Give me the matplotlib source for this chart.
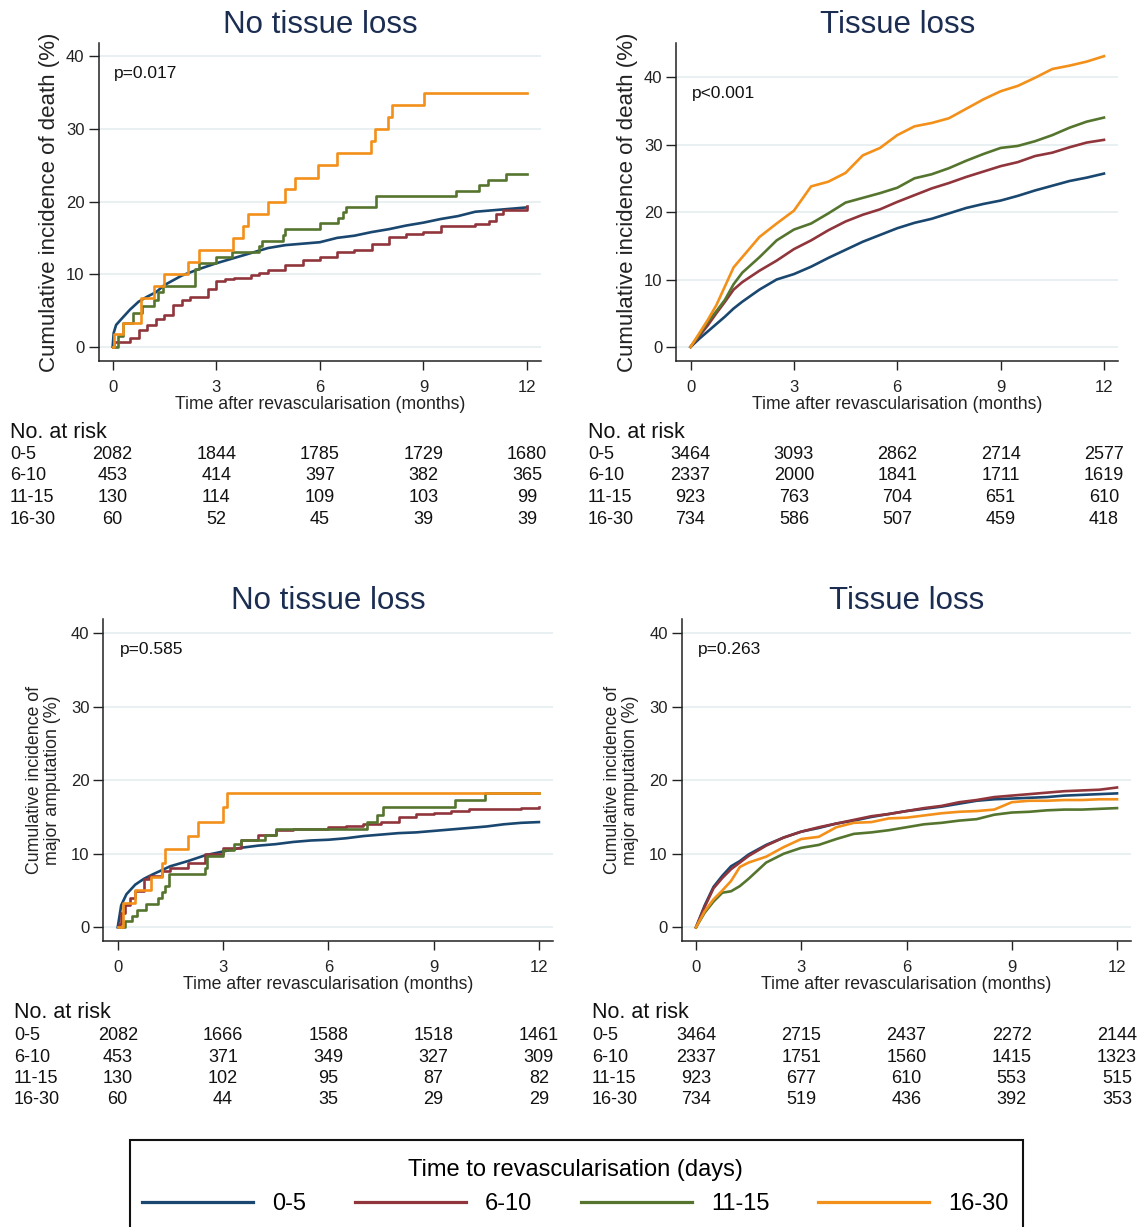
import matplotlib
matplotlib.use("Agg")
import matplotlib.pyplot as plt
from matplotlib.lines import Line2D
from matplotlib.patches import Rectangle
from matplotlib.transforms import blended_transform_factory

plt.rcParams['font.family'] = ['Liberation Sans', 'DejaVu Sans']

W, H = 1146, 1227

groups = ["0-5", "6-10", "11-15", "16-30"]
colors = ["#1a476f", "#90353b", "#55752f", "#f39019"]
risk_times = [0, 3, 6, 9, 12]

# --- death, no tissue loss (top left) ---
death_ntl_t_05 = [0, 0.03, 0.1, 0.25, 0.5, 0.75, 1.0, 1.25, 1.5, 2.0, 2.5, 3.0, 3.5, 4.0, 4.5, 5.0,
                  5.5, 6.0, 6.5, 7.0, 7.5, 8.0, 8.5, 9.0, 9.5, 10.0, 10.5, 11.0, 11.5, 12.0]
death_ntl_v_05 = [0, 1.9, 3.0, 3.8, 5.1, 6.2, 6.9, 7.5, 8.5, 9.8, 10.7, 11.5, 12.2, 12.9, 13.6, 14.0,
                  14.2, 14.4, 15.0, 15.3, 15.8, 16.2, 16.7, 17.1, 17.6, 18.0, 18.6, 18.8, 19.0, 19.2]
death_ntl_t_610 = [0, 0.05, 0.5, 0.75, 1.0, 1.25, 1.5, 1.75, 2.0, 2.25, 2.5, 2.75, 3.0, 3.25, 3.5, 4.0,
                   4.25, 4.5, 5.0, 5.5, 6.0, 6.5, 7.0, 7.5, 8.0, 8.5, 9.0, 9.5, 10.0, 10.5, 10.9,
                   11.1, 11.3, 11.9, 12.0]
death_ntl_v_610 = [0, 0.7, 1.2, 2.3, 3.0, 3.8, 4.4, 5.8, 6.5, 6.8, 6.9, 7.9, 9.0, 9.3, 9.5, 9.9,
                   10.2, 10.6, 11.2, 12.0, 12.4, 13.0, 13.3, 14.1, 15.1, 15.5, 15.75, 16.7, 16.7, 16.9, 17.3,
                   18.3, 18.9, 18.9, 19.4]
death_ntl_t_1115 = [0, 0.15, 0.3, 0.6, 0.86, 1.2, 1.3, 1.45, 2.38, 2.5, 3.0, 3.47, 4.23, 4.33, 4.92,
                    5.0, 6.0, 6.53, 6.66, 6.77, 7.64, 9.95, 10.62, 10.88, 11.38, 12.0]
death_ntl_v_1115 = [0, 1.5, 3.3, 4.7, 5.6, 6.5, 7.5, 8.4, 10.7, 11.5, 12.3, 13.1, 13.9, 14.6, 15.4,
                    16.2, 17.0, 17.7, 18.5, 19.2, 20.8, 21.5, 22.3, 23.0, 23.8, 23.8]
death_ntl_t_1630 = [0, 0.03, 0.29, 0.83, 1.21, 1.5, 2.17, 2.5, 3.49, 3.78, 3.91, 4.5, 5.0, 5.28,
                    5.95, 6.5, 7.48, 7.6, 7.98, 8.08, 9.02, 12.0]
death_ntl_v_1630 = [0, 1.7, 3.3, 6.7, 8.3, 10.0, 11.7, 13.3, 15.0, 16.7, 18.3, 20.0, 21.7, 23.3,
                    25.0, 26.7, 28.3, 30.0, 31.7, 33.3, 35.0, 35.0]

# shared time grid for the smooth tissue-loss curves
t_grid = [0, 0.25, 0.5, 0.75, 1.0, 1.25, 1.5, 2.0, 2.5, 3.0, 3.5, 4.0, 4.5, 5.0, 5.5, 6.0, 6.5,
          7.0, 7.5, 8.0, 8.5, 9.0, 9.5, 10.0, 10.5, 11.0, 11.5, 12.0]

# --- death, tissue loss (top right) ---
death_tl_05 = [0, 1.2, 2.3, 3.4, 4.5, 5.7, 6.7, 8.5, 10.0, 10.8, 11.9, 13.2, 14.4, 15.6, 16.6, 17.6,
               18.4, 19.0, 19.8, 20.6, 21.2, 21.7, 22.4, 23.2, 23.9, 24.6, 25.1, 25.7]
death_tl_610 = [0, 1.6, 3.2, 5.0, 6.7, 8.5, 9.6, 11.3, 12.8, 14.5, 15.8, 17.3, 18.6, 19.6, 20.4, 21.5,
                22.5, 23.5, 24.3, 25.2, 26.0, 26.8, 27.4, 28.3, 28.8, 29.6, 30.3, 30.7]
death_tl_1115 = [0, 1.8, 3.7, 5.3, 7.0, 9.3, 11.0, 13.3, 15.8, 17.4, 18.3, 19.8, 21.4, 22.1, 22.8, 23.6,
                 25.0, 25.6, 26.5, 27.6, 28.6, 29.5, 29.8, 30.5, 31.4, 32.5, 33.4, 34.0]
death_tl_1630 = [0, 2.0, 4.0, 6.2, 9.0, 11.8, 13.3, 16.3, 18.3, 20.2, 23.8, 24.5, 25.8, 28.4, 29.5, 31.4,
                 32.7, 33.2, 33.9, 35.3, 36.7, 37.9, 38.7, 39.9, 41.2, 41.7, 42.3, 43.1]

# --- amputation, no tissue loss (bottom left) ---
amp_ntl_t_05 = [0, 0.05, 0.1, 0.25, 0.5, 0.75, 1.0, 1.5, 2.0, 2.5, 3.0, 3.5, 4.0, 4.5, 5.0, 5.5, 6.0,
                6.5, 7.0, 7.5, 8.0, 8.5, 9.0, 9.5, 10.0, 10.5, 11.0, 11.5, 12.0]
amp_ntl_v_05 = [0, 1.5, 3.0, 4.5, 5.8, 6.6, 7.2, 8.3, 9.0, 9.8, 10.3, 10.8, 11.1, 11.3, 11.6, 11.8, 11.9,
                12.1, 12.4, 12.6, 12.8, 12.9, 13.1, 13.3, 13.5, 13.7, 14.0, 14.2, 14.3]
amp_ntl_t_610 = [0, 0.05, 0.1, 0.2, 0.35, 0.5, 0.75, 0.9, 1.25, 1.5, 2.0, 2.5, 3.0, 3.5, 4.0, 4.5,
                 5.0, 6.0, 6.5, 7.0, 7.5, 8.0, 8.5, 9.0, 9.5, 10.0, 11.0, 11.5, 12.0]
amp_ntl_v_610 = [0, 0.5, 2.0, 3.0, 4.0, 5.0, 6.5, 7.0, 7.6, 8.0, 8.8, 10.0, 10.8, 11.8, 12.5, 13.2,
                 13.4, 13.6, 13.8, 14.0, 14.3, 15.0, 15.4, 15.5, 15.8, 16.1, 16.1, 16.2, 16.4]
amp_ntl_t_1115 = [0, 0.2, 0.4, 0.55, 0.8, 1.15, 1.25, 1.35, 1.45, 2.5, 2.55, 3.0, 3.3, 3.5, 4.2, 4.5,
                  7.1, 7.4, 7.55, 9.6, 10.45, 12.0]
amp_ntl_v_1115 = [0, 0.8, 1.6, 2.4, 3.2, 4.0, 4.8, 5.6, 7.3, 8.1, 9.7, 10.5, 11.3, 11.8, 12.6, 13.4,
                  14.3, 15.2, 16.4, 17.3, 18.2, 18.2]
amp_ntl_t_1630 = [0, 0.15, 0.5, 0.95, 1.25, 1.35, 2.0, 2.3, 3.0, 3.1, 12.0]
amp_ntl_v_1630 = [0, 3.3, 5.1, 6.9, 8.8, 10.6, 12.4, 14.3, 16.3, 18.2, 18.2]

# --- amputation, tissue loss (bottom right) ---
amp_tl_05 = [0, 3.0, 5.5, 7.0, 8.3, 9.0, 9.9, 11.2, 12.2, 13.0, 13.5, 14.1, 14.5, 15.0, 15.4, 15.8,
             16.1, 16.4, 16.8, 17.2, 17.4, 17.5, 17.6, 17.7, 17.9, 18.0, 18.1, 18.2]
amp_tl_610 = [0, 2.8, 5.3, 6.7, 7.9, 8.8, 9.7, 11.1, 12.2, 13.0, 13.6, 14.1, 14.6, 15.1, 15.4, 15.8,
              16.2, 16.5, 17.0, 17.3, 17.7, 17.9, 18.1, 18.3, 18.5, 18.6, 18.7, 19.0]
amp_tl_1115 = [0, 2.0, 3.5, 4.7, 4.9, 5.6, 6.6, 8.8, 10.0, 10.8, 11.2, 12.0, 12.7, 12.9, 13.2, 13.6,
               14.0, 14.2, 14.5, 14.7, 15.3, 15.6, 15.7, 15.9, 16.0, 16.0, 16.1, 16.2]
amp_tl_1630 = [0, 2.2, 3.8, 5.0, 6.3, 8.2, 8.8, 9.6, 10.9, 12.0, 12.3, 13.6, 14.2, 14.3, 14.8, 14.9,
               15.2, 15.5, 15.7, 15.8, 16.0, 17.0, 17.2, 17.2, 17.3, 17.3, 17.4, 17.4]

# --- numbers at risk ---
risk_death_ntl = [[2082, 1844, 1785, 1729, 1680],
                  [453, 414, 397, 382, 365],
                  [130, 114, 109, 103, 99],
                  [60, 52, 45, 39, 39]]
risk_death_tl = [[3464, 3093, 2862, 2714, 2577],
                 [2337, 2000, 1841, 1711, 1619],
                 [923, 763, 704, 651, 610],
                 [734, 586, 507, 459, 418]]
risk_amp_ntl = [[2082, 1666, 1588, 1518, 1461],
                [453, 371, 349, 327, 309],
                [130, 102, 95, 87, 82],
                [60, 44, 35, 29, 29]]
risk_amp_tl = [[3464, 2715, 2437, 2272, 2144],
               [2337, 1751, 1560, 1415, 1323],
               [923, 677, 610, 553, 515],
               [734, 519, 436, 392, 353]]

fig = plt.figure(figsize=(W / 100, H / 100), dpi=100)
fig.patch.set_facecolor('white')


def px_axes(left, right, top, bottom):
    return fig.add_axes([left / W, 1 - bottom / H, (right - left) / W, (bottom - top) / H])


def style_axes(ax, title, ylabel, ylim, ylab_size, ylab_pad):
    ax.set_xlim(-0.41, 12.41)
    ax.set_ylim(*ylim)
    ax.set_xticks(risk_times)
    ax.set_yticks([0, 10, 20, 30, 40])
    for y in [0, 10, 20, 30, 40]:
        ax.axhline(y, color='#e6eff1', lw=1.3, zorder=0)
    for s in ['top', 'right']:
        ax.spines[s].set_visible(False)
    for s in ['left', 'bottom']:
        ax.spines[s].set_color('#222222')
        ax.spines[s].set_linewidth(1.1)
    ax.tick_params(axis='x', length=6.5, width=1, pad=7, labelsize=12, colors='#222222')
    ax.tick_params(axis='y', length=7, width=1, pad=3, labelsize=12, colors='#222222')
    ax.set_xlabel("Time after revascularisation (months)", fontsize=12.7, labelpad=1, color='#222222')
    ax.set_ylabel(ylabel, fontsize=ylab_size, labelpad=ylab_pad, color='#222222', linespacing=1.1)
    ax.set_title(title, fontsize=22.5, color='#1c2d52', pad=7)


def risk_table(ax, rows, label_x, top_y):
    tr = blended_transform_factory(ax.transData, fig.transFigure)
    fig.text(label_x / W, 1 - top_y / H, "No. at risk", fontsize=15.5, va='center', ha='left',
             color='#111111')
    for i, (g, vals) in enumerate(zip(groups, rows)):
        yy = 1 - (top_y + 22.5 + i * 21.5) / H
        fig.text(label_x / W, yy, g, fontsize=13, va='center', ha='left', color='#111111')
        for t, v in zip(risk_times, vals):
            ax.text(t, yy, str(v), transform=tr, fontsize=13, va='center', ha='center',
                    color='#111111')


# top left
ax1 = px_axes(98.5, 541.2, 42.7, 361)
ax1.plot(death_ntl_t_05, death_ntl_v_05, color=colors[0], lw=1.9)
ax1.plot(death_ntl_t_610, death_ntl_v_610, color=colors[1], lw=1.9, drawstyle='steps-post')
ax1.plot(death_ntl_t_1115, death_ntl_v_1115, color=colors[2], lw=1.9, drawstyle='steps-post')
ax1.plot(death_ntl_t_1630, death_ntl_v_1630, color=colors[3], lw=1.9, drawstyle='steps-post')
style_axes(ax1, "No tissue loss", "Cumulative incidence of death (%)", (-1.97, 41.9), 16, 4)
ax1.text(0.05, 37.6, "p=0.017", fontsize=12.5, va='center', ha='left', color='#111111')
risk_table(ax1, risk_death_ntl, 10, 432)

# top right
ax2 = px_axes(676.4, 1118.1, 42.7, 361)
for vals, c in zip([death_tl_05, death_tl_610, death_tl_1115, death_tl_1630], colors):
    ax2.plot(t_grid, vals, color=c, lw=1.9)
style_axes(ax2, "Tissue loss", "Cumulative incidence of death (%)", (-2.08, 45.1), 16, 4)
ax2.text(0.05, 37.6, "p<0.001", fontsize=12.5, va='center', ha='left', color='#111111')
risk_table(ax2, risk_death_tl, 588, 432)

# bottom left
ax3 = px_axes(103.3, 553.3, 619, 941)
ax3.plot(amp_ntl_t_05, amp_ntl_v_05, color=colors[0], lw=1.9)
ax3.plot(amp_ntl_t_610, amp_ntl_v_610, color=colors[1], lw=1.9, drawstyle='steps-post')
ax3.plot(amp_ntl_t_1115, amp_ntl_v_1115, color=colors[2], lw=1.9, drawstyle='steps-post')
ax3.plot(amp_ntl_t_1630, amp_ntl_v_1630, color=colors[3], lw=1.9, drawstyle='steps-post')
style_axes(ax3, "No tissue loss", "Cumulative incidence of\nmajor amputation (%)", (-1.86, 41.9), 12.8, 7)
ax3.text(0.05, 37.7, "p=0.585", fontsize=12.5, va='center', ha='left', color='#111111')
risk_table(ax3, risk_amp_ntl, 14, 1013)

# bottom right
ax4 = px_axes(681.6, 1131.4, 619, 941)
for vals, c in zip([amp_tl_05, amp_tl_610, amp_tl_1115, amp_tl_1630], colors):
    ax4.plot(t_grid, vals, color=c, lw=1.9)
style_axes(ax4, "Tissue loss", "Cumulative incidence of\nmajor amputation (%)", (-1.86, 41.9), 12.8, 7)
ax4.text(0.05, 37.7, "p=0.263", fontsize=12.5, va='center', ha='left', color='#111111')
risk_table(ax4, risk_amp_tl, 592, 1013)

# legend box, running off the bottom edge like the original
fig.add_artist(Rectangle((130 / W, -0.05), (1023 - 130) / W, 0.05 + 1 - 1140 / H,
                         transform=fig.transFigure, fill=False, edgecolor='#111111', lw=1.5))
handles = [Line2D([], [], color=c, lw=2.3) for c in colors]
leg = fig.legend(handles, groups, ncol=4, loc='center', bbox_to_anchor=(575.5 / W, 1 - 1187 / H),
                 frameon=False, fontsize=17, title="Time to revascularisation (days)",
                 title_fontsize=17, handlelength=4.7, handletextpad=0.8, columnspacing=2.07,
                 borderpad=0.2)

fig.savefig("out.png", dpi=100, facecolor='white')
